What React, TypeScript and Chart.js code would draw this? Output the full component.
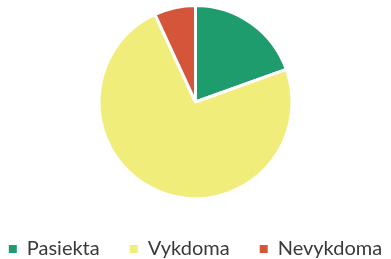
import React, { useEffect, useRef } from "react";
import { Chart, registerables } from "chart.js";

Chart.register(...registerables);

const categories = ["Pasiekta", "Vykdoma", "Nevykdoma"];
const values = [19.5, 73.6, 6.9];
const colors = ["#1f9c6d", "#f1ed7b", "#d5553a"];

export default function App() {
  const ref = useRef<HTMLCanvasElement | null>(null);
  useEffect(() => {
    if (!ref.current) return;
    const chart = new Chart(ref.current, {
      type: "pie",
      data: {
        labels: categories,
        datasets: [
          {
            data: values,
            backgroundColor: colors,
            borderColor: "#ffffff",
            borderWidth: 3,
          },
        ],
      },
      options: {
        responsive: false,
        animation: false,
        layout: { padding: { top: 4, bottom: 0, left: -25, right: -25 } },
        plugins: {
          tooltip: { enabled: false },
          legend: {
            position: "bottom",
            maxHeight: 59,
            title: {
              display: true,
              text: "",
              font: { size: 9, lineHeight: 1 },
              padding: { top: 0, bottom: 0 },
            },
            labels: {
              boxWidth: 8,
              boxHeight: 8,
              padding: 30,
              color: "#3a3a3a",
              font: { family: "Lato", size: 20 },
              generateLabels: () =>
                categories.map((text, i) => ({
                  text,
                  fillStyle: colors[i],
                  strokeStyle: colors[i],
                  lineWidth: 0,
                  hidden: false,
                  index: i,
                  fontColor: "#3a3a3a",
                })),
            },
          },
        },
      },
    });
    return () => chart.destroy();
  }, []);
  return (
    <div style={{ position: "absolute", left: 0, top: 0, width: 391, height: 259 }}>
      <canvas ref={ref} width={391} height={259} style={{ display: "block" }} />
    </div>
  );
}
